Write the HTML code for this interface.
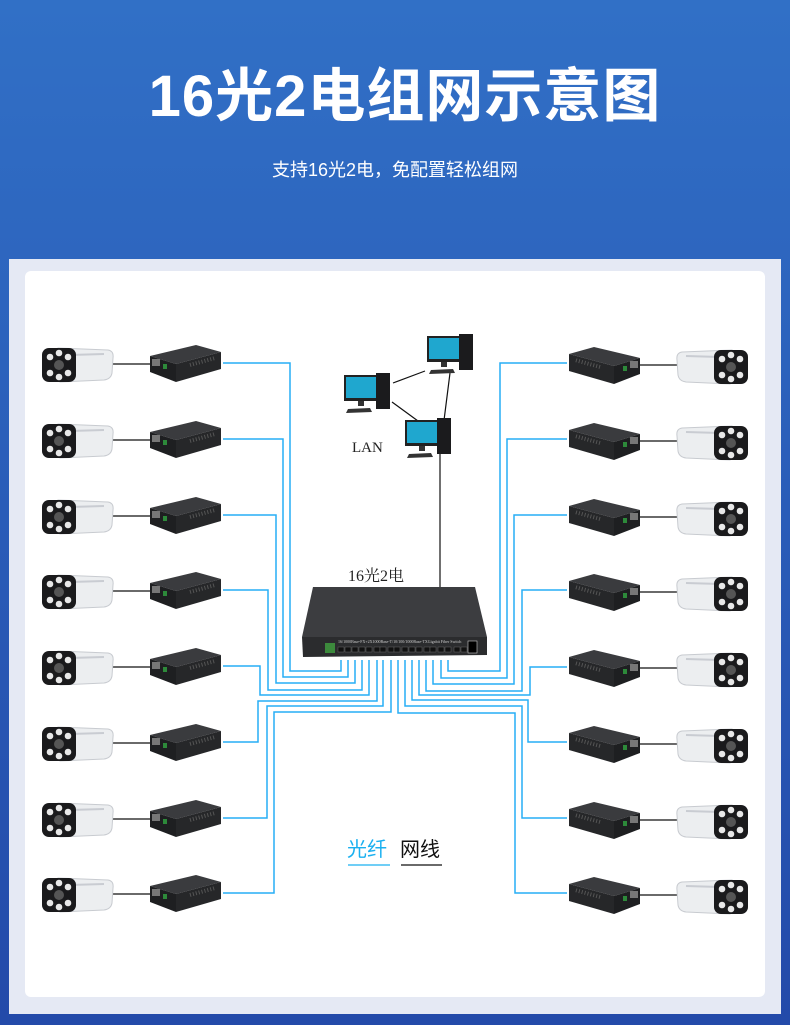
<!DOCTYPE html>
<html><head><meta charset="utf-8"><style>
html,body{margin:0;padding:0}
body{width:790px;height:1025px;overflow:hidden;background:linear-gradient(#3170c6,#2a5cb8 50%,#234aa9);font-family:"Liberation Sans","Noto Sans CJK SC",sans-serif;position:relative}
.t{position:absolute;left:0;width:790px;text-align:center;color:#fff}
</style></head><body>
<div class="t" style="top:61px;left:10px;font-size:58px;font-weight:bold;letter-spacing:1px;line-height:72px">16光2电组网示意图</div>
<div class="t" style="top:158px;font-size:18px;line-height:24px">支持16光2电，免配置轻松组网</div>
<div style="position:absolute;left:9px;top:259px;width:772px;height:755px;background:#e5e9f4"></div>
<div style="position:absolute;left:25px;top:271px;width:740px;height:726px;background:#fff;border-radius:6px"></div>
<svg style="position:absolute;left:0;top:0" width="790" height="1025" viewBox="0 0 790 1025">
<defs>
<g id="cam">
 <path d="M58 -15 L108 -13 Q114 -12 113 -5 L112 10 Q111 16 104 17 L60 19 Z" fill="#eceef0" stroke="#c8cbd0" stroke-width="1"/>
 <path d="M70 -8 L104 -9" stroke="#c9ccd2" stroke-width="2"/>
 <rect x="42" y="-15" width="34" height="34" rx="7" fill="#1a1a1c"/>
 <circle cx="59" cy="2" r="5" fill="#555"/>
 <g fill="#e8e8e8"><circle cx="50" cy="-6" r="3.3"/><circle cx="59" cy="-10" r="3.3"/><circle cx="68" cy="-6" r="3.3"/><circle cx="50" cy="10" r="3.3"/><circle cx="59" cy="14" r="3.3"/><circle cx="68" cy="10" r="3.3"/></g>
</g>
<g id="conv">
 <path d="M150 -7 L196 -18 L221 -11 L176 1 Z" fill="#3a3b3e"/>
 <path d="M150 -7 L176 1 L176 19 L150 9 Z" fill="#1e1f21"/>
 <path d="M176 1 L221 -11 L221 6 L176 19 Z" fill="#262729"/>
 <rect x="152" y="-4" width="8" height="7" fill="#777"/>
 <rect x="163" y="1" width="4" height="5" fill="#2d8a3a"/>
 <path d="M190 2 L215 -5" stroke="#555" stroke-width="4" stroke-dasharray="1 2"/>
</g>
<g id="sw">
 <path d="M313 587 L475 587 L487 637 L302 637 Z" fill="#3c3d40"/>
 <path d="M302 637 L487 637 L487 655 L303 657 Z" fill="#2b2c2e"/>
</g>
<g id="pc">
 <rect x="0" y="0" width="34" height="26" fill="#222"/>
 <rect x="2" y="2" width="30" height="21" fill="#1fa7cf"/>
 <rect x="32" y="-2" width="14" height="36" fill="#1b1b1d"/>
 <rect x="14" y="26" width="6" height="5" fill="#333"/>
 <path d="M4 34 L26 33 L28 37 L2 38 Z" fill="#333"/>
</g>
</defs>
<g fill="none" stroke="#27aef5" stroke-width="1.5">
 <path d="M223 363 H290 V671 H341 V660"/>
 <path d="M223 439 H283 V677 H348 V660"/>
 <path d="M223 515 H276 V683 H355 V660"/>
 <path d="M223 590 H268 V690 H362 V660"/>
 <path d="M223 666 H260 V695 H369 V660"/>
 <path d="M223 742 H258 V701 H377 V660"/>
 <path d="M223 818 H267 V706 H383 V660"/>
 <path d="M223 893 H274 V712 H391 V660"/>
 <path d="M567 363 H500 V671 H448 V660"/>
 <path d="M567 439 H507 V678 H441 V660"/>
 <path d="M567 515 H514 V684 H433 V660"/>
 <path d="M567 590 H522 V691 H426 V660"/>
 <path d="M567 667 H530 V695 H419 V660"/>
 <path d="M567 742 H528 V700 H412 V660"/>
 <path d="M567 818 H522 V706 H405 V660"/>
 <path d="M567 893 H515 V713 H398 V660"/>
</g>
<g stroke="#111" stroke-width="1.2" fill="none">
 <path d="M113 364 H150 M113 440 H150 M113 516 H150 M113 591 H150 M113 667 H150 M113 743 H150 M113 819 H150 M113 894 H150"/>
 <path d="M640 365 H677 M640 441 H677 M640 517 H677 M640 592 H677 M640 668 H677 M640 744 H677 M640 820 H677 M640 895 H677"/>
 <path d="M393 383 L425 371 M392 402 L418 421 M450 373 L440 452 V596"/>
</g>
<g>
<use href="#cam" y="363"/><use href="#conv" y="363"/>
<use href="#cam" y="439"/><use href="#conv" y="439"/>
<use href="#cam" y="515"/><use href="#conv" y="515"/>
<use href="#cam" y="590"/><use href="#conv" y="590"/>
<use href="#cam" y="666"/><use href="#conv" y="666"/>
<use href="#cam" y="742"/><use href="#conv" y="742"/>
<use href="#cam" y="818"/><use href="#conv" y="818"/>
<use href="#cam" y="893"/><use href="#conv" y="893"/>
</g>
<g transform="translate(790,0) scale(-1,1)">
<use href="#cam" y="365"/><use href="#conv" y="365"/>
<use href="#cam" y="441"/><use href="#conv" y="441"/>
<use href="#cam" y="517"/><use href="#conv" y="517"/>
<use href="#cam" y="592"/><use href="#conv" y="592"/>
<use href="#cam" y="668"/><use href="#conv" y="668"/>
<use href="#cam" y="744"/><use href="#conv" y="744"/>
<use href="#cam" y="820"/><use href="#conv" y="820"/>
<use href="#cam" y="895"/><use href="#conv" y="895"/>
</g>
<use href="#sw"/>
<rect x="325" y="643" width="10" height="10" fill="#3c8a3c"/>
<g fill="#111" stroke="#666" stroke-width="0.5">
 <rect x="338" y="647" width="6" height="5"/><rect x="345" y="647" width="6" height="5"/><rect x="352" y="647" width="6" height="5"/><rect x="359" y="647" width="6" height="5"/><rect x="366" y="647" width="6" height="5"/><rect x="374" y="647" width="6" height="5"/><rect x="380" y="647" width="6" height="5"/><rect x="388" y="647" width="6" height="5"/><rect x="394" y="647" width="6" height="5"/><rect x="402" y="647" width="6" height="5"/><rect x="409" y="647" width="6" height="5"/><rect x="416" y="647" width="6" height="5"/><rect x="424" y="647" width="6" height="5"/><rect x="430" y="647" width="6" height="5"/><rect x="438" y="647" width="6" height="5"/><rect x="445" y="647" width="6" height="5"/><rect x="454" y="647" width="6" height="5"/><rect x="461" y="647" width="6" height="5"/>
</g>
<rect x="468" y="641" width="9" height="12" fill="#000" stroke="#ccc" stroke-width="0.6"/>
<text x="338" y="643" font-family="Liberation Serif" font-size="4" fill="#ccc">16/1000Base-FX+2X1000Base-T/10/100/1000Base-TXGigabit Fiber Switch</text>
<use href="#pc" x="344" y="375"/>
<use href="#pc" x="427" y="336"/>
<use href="#pc" x="405" y="420"/>
<text x="352" y="452" font-family="Liberation Serif" font-size="15" fill="#222">LAN</text>
<text x="348" y="581" font-family="Liberation Serif,Noto Serif CJK SC,serif" font-size="16" fill="#222">16光2电</text>
<text x="347" y="856" font-family="Liberation Sans,Noto Sans CJK SC,sans-serif" font-size="20" fill="#1ab0f0">光纤</text>
<text x="400" y="856" font-family="Liberation Sans,Noto Sans CJK SC,sans-serif" font-size="20" fill="#111">网线</text>
<path d="M348 865 H390" stroke="#1ab0f0" stroke-width="1.2"/>
<path d="M401 865 H442" stroke="#111" stroke-width="1.2"/>
</svg>
</body></html>
